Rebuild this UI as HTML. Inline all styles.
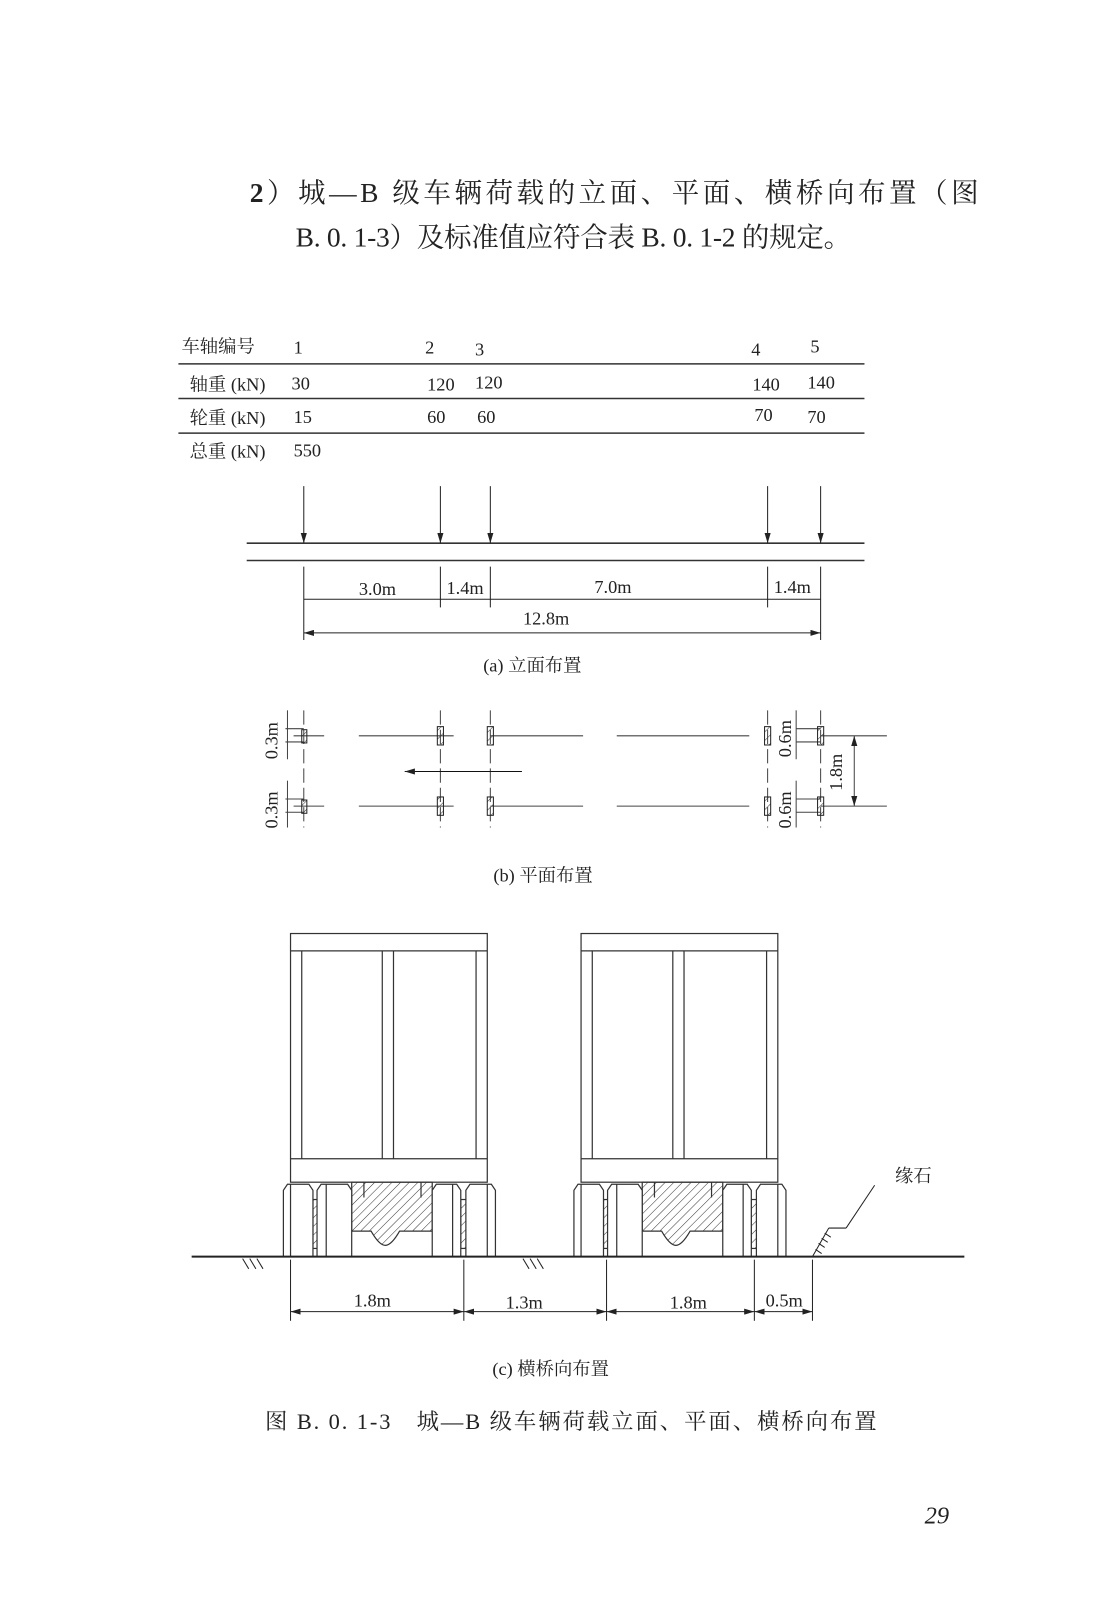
<!DOCTYPE html>
<html><head><meta charset="utf-8"><style>
html,body{margin:0;padding:0;background:#fff}
svg{display:block}
text{font-family:"Liberation Serif","Noto Serif CJK SC",serif;fill:#222}
</style></head><body>
<svg width="1103" height="1598" viewBox="0 0 1082 1568" preserveAspectRatio="none" xmlns="http://www.w3.org/2000/svg">
<defs>
<pattern id="h" width="6" height="6" patternUnits="userSpaceOnUse" patternTransform="rotate(45)">
<line x1="0" y1="0" x2="0" y2="6" stroke="#333" stroke-width="1"/></pattern>
<marker id="a" markerWidth="10" markerHeight="6" refX="10" refY="3" orient="auto" markerUnits="userSpaceOnUse"><path d="M0,0 L10,3 L0,6 Z" fill="#222"/></marker>
<marker id="as" markerWidth="10" markerHeight="6" refX="0" refY="3" orient="auto" markerUnits="userSpaceOnUse"><path d="M10,0 L0,3 L10,6 Z" fill="#222"/></marker>
</defs>
<g font-size="27">
<text x="245" y="198" textLength="715" lengthAdjust="spacing"><tspan font-weight="bold">2</tspan>）城—B 级车辆荷载的立面、平面、横桥向布置（图</text>
<text x="290" y="242" textLength="545" lengthAdjust="spacing">B. 0. 1-3）及标准值应符合表 B. 0. 1-2 的规定。</text>
</g>
<g font-size="18">
<text x="178" y="346">车轴编号</text><text x="288" y="347">1</text><text x="417" y="347">2</text><text x="466" y="349">3</text><text x="737" y="349">4</text><text x="795" y="346">5</text>
<text x="186" y="383">轴重 (kN)</text><text x="286" y="382">30</text><text x="419" y="383">120</text><text x="466" y="381">120</text><text x="738" y="383">140</text><text x="792" y="381">140</text>
<text x="186" y="416">轮重 (kN)</text><text x="288" y="415">15</text><text x="419" y="415">60</text><text x="468" y="415">60</text><text x="740" y="413">70</text><text x="792" y="415">70</text>
<text x="186" y="449">总重 (kN)</text><text x="288" y="448">550</text>
</g>
<g stroke="#333" stroke-width="1.5">
<line x1="175" y1="357" x2="848" y2="357"/><line x1="175" y1="391" x2="848" y2="391"/><line x1="175" y1="425" x2="848" y2="425"/>
<line x1="242" y1="533" x2="848" y2="533"/><line x1="242" y1="550" x2="848" y2="550"/>
</g>
<g stroke="#222" stroke-width="1">
<line x1="298" y1="477" x2="298" y2="533" marker-end="url(#a)"/>
<line x1="432" y1="477" x2="432" y2="533" marker-end="url(#a)"/>
<line x1="481" y1="477" x2="481" y2="533" marker-end="url(#a)"/>
<line x1="753" y1="477" x2="753" y2="533" marker-end="url(#a)"/>
<line x1="805" y1="477" x2="805" y2="533" marker-end="url(#a)"/>
<line x1="298" y1="556" x2="298" y2="628"/><line x1="432" y1="556" x2="432" y2="596"/><line x1="481" y1="556" x2="481" y2="596"/><line x1="753" y1="556" x2="753" y2="596"/><line x1="805" y1="556" x2="805" y2="628"/>
<line x1="298" y1="588" x2="805" y2="588"/>
<line x1="298" y1="621" x2="805" y2="621" marker-start="url(#as)" marker-end="url(#a)"/>
</g>
<g font-size="18">
<text x="352" y="584">3.0m</text><text x="438" y="583">1.4m</text><text x="583" y="582">7.0m</text><text x="759" y="582">1.4m</text><text x="513" y="613">12.8m</text>
<text x="474" y="659">(a) 立面布置</text>
</g>
<g stroke="#444" stroke-width="1">
<g stroke-dasharray="14,5">
<line x1="298" y1="697" x2="298" y2="812"/><line x1="432" y1="697" x2="432" y2="812"/><line x1="481" y1="697" x2="481" y2="812"/><line x1="753" y1="697" x2="753" y2="812"/><line x1="805" y1="697" x2="805" y2="812"/>
</g>
<line x1="288" y1="722" x2="318" y2="722"/><line x1="288" y1="791" x2="318" y2="791"/>
<line x1="352" y1="722" x2="445" y2="722"/><line x1="352" y1="791" x2="445" y2="791"/>
<line x1="481" y1="722" x2="572" y2="722"/><line x1="481" y1="791" x2="572" y2="791"/>
<line x1="605" y1="722" x2="735" y2="722"/><line x1="605" y1="791" x2="735" y2="791"/>
<line x1="805" y1="722" x2="870" y2="722"/><line x1="805" y1="791" x2="870" y2="791"/>
<line x1="512" y1="757" x2="397" y2="757" stroke="#111" marker-end="url(#a)"/>
<line x1="838" y1="722" x2="838" y2="791" marker-start="url(#as)" marker-end="url(#a)"/>
<line x1="280" y1="715" x2="298" y2="715"/><line x1="280" y1="728" x2="298" y2="728"/>
<line x1="280" y1="784" x2="298" y2="784"/><line x1="280" y1="797" x2="298" y2="797"/>
<line x1="282" y1="697" x2="282" y2="745"/><line x1="282" y1="766" x2="282" y2="812"/>
<line x1="781" y1="715" x2="805" y2="715"/><line x1="781" y1="728" x2="805" y2="728"/>
<line x1="781" y1="784" x2="805" y2="784"/><line x1="781" y1="797" x2="805" y2="797"/>
<line x1="781" y1="697" x2="781" y2="745"/><line x1="781" y1="766" x2="781" y2="812"/>
</g>
<g fill="url(#h)" stroke="#222" stroke-width="1">
<rect x="296" y="716" width="5" height="13"/><rect x="296" y="785" width="5" height="13"/>
<rect x="429" y="713" width="6" height="18"/><rect x="429" y="782" width="6" height="18"/>
<rect x="478" y="713" width="6" height="18"/><rect x="478" y="782" width="6" height="18"/>
<rect x="750" y="713" width="6" height="18"/><rect x="750" y="782" width="6" height="18"/>
<rect x="802" y="713" width="6" height="18"/><rect x="802" y="782" width="6" height="18"/>
</g>
<g font-size="18">
<text transform="translate(272,745) rotate(-90)">0.3m</text>
<text transform="translate(272,813) rotate(-90)">0.3m</text>
<text transform="translate(776,743) rotate(-90)">0.6m</text>
<text transform="translate(776,813) rotate(-90)">0.6m</text>
<text transform="translate(826,776) rotate(-90)">1.8m</text>
<text x="484" y="865">(b) 平面布置</text>
</g>
<g id="truck" stroke="#333" stroke-width="1.2" fill="none">
<rect x="285" y="916" width="193" height="244"/>
<line x1="285" y1="933" x2="478" y2="933"/>
<line x1="296" y1="933" x2="296" y2="1137"/><line x1="467" y1="933" x2="467" y2="1137"/>
<line x1="375" y1="933" x2="375" y2="1137"/><line x1="386" y1="933" x2="386" y2="1137"/>
<line x1="285" y1="1137" x2="478" y2="1137"/>
<path d="M345,1160 H424 V1208 H392 Q384,1222 378,1222 Q372,1222 364,1208 H345 Z" fill="url(#h)"/>
<rect x="307" y="1177" width="8" height="48" fill="url(#h)"/><rect x="452" y="1177" width="8" height="48" fill="url(#h)"/>
<path d="M278,1168 L282,1162 H303 L307,1168 V1233 H278 Z" fill="#fff"/><line x1="285" y1="1162" x2="285" y2="1233"/>
<path d="M311,1168 L315,1162 H341 L345,1168 V1233 H311 Z" fill="#fff"/><line x1="320" y1="1162" x2="320" y2="1233"/>
<path d="M424,1168 L428,1162 H448 L452,1168 V1233 H424 Z" fill="#fff"/><line x1="444" y1="1162" x2="444" y2="1233"/>
<path d="M457,1168 L461,1162 H482 L486,1168 V1233 H457 Z" fill="#fff"/><line x1="478" y1="1162" x2="478" y2="1233"/>
<line x1="357" y1="1160" x2="357" y2="1175"/><line x1="413" y1="1160" x2="413" y2="1175"/>
</g>
<use href="#truck" x="285"/>
<g stroke="#222" stroke-width="1">
<line x1="188" y1="1233" x2="946" y2="1233" stroke-width="2"/>
<line x1="797" y1="1233" x2="813" y2="1205"/><line x1="813" y1="1205" x2="830" y2="1205"/><line x1="830" y1="1205" x2="858" y2="1163"/>
<line x1="800" y1="1226" x2="806" y2="1230"/><line x1="803" y1="1220" x2="809" y2="1224"/><line x1="806" y1="1215" x2="812" y2="1219"/><line x1="809" y1="1210" x2="815" y2="1214"/>
<line x1="238" y1="1235" x2="244" y2="1245"/><line x1="245" y1="1235" x2="251" y2="1245"/><line x1="252" y1="1235" x2="258" y2="1245"/>
<line x1="513" y1="1235" x2="519" y2="1245"/><line x1="520" y1="1235" x2="526" y2="1245"/><line x1="527" y1="1235" x2="533" y2="1245"/>
<line x1="285" y1="1236" x2="285" y2="1296"/><line x1="455" y1="1236" x2="455" y2="1296"/><line x1="595" y1="1236" x2="595" y2="1296"/><line x1="740" y1="1236" x2="740" y2="1296"/><line x1="797" y1="1236" x2="797" y2="1296"/>
<line x1="285" y1="1287" x2="455" y2="1287" marker-start="url(#as)" marker-end="url(#a)"/>
<line x1="455" y1="1287" x2="595" y2="1287" marker-start="url(#as)" marker-end="url(#a)"/>
<line x1="595" y1="1287" x2="740" y2="1287" marker-start="url(#as)" marker-end="url(#a)"/>
<line x1="740" y1="1287" x2="797" y2="1287" marker-start="url(#as)" marker-end="url(#a)"/>
</g>
<g font-size="18">
<text x="878" y="1160">缘石</text>
<text x="347" y="1282">1.8m</text><text x="496" y="1284">1.3m</text><text x="657" y="1284">1.8m</text><text x="751" y="1282">0.5m</text>
<text x="483" y="1349">(c) 横桥向布置</text>
</g>
<text x="260" y="1402" font-size="22" textLength="600" lengthAdjust="spacing">图 B. 0. 1-3　城—B 级车辆荷载立面、平面、横桥向布置</text>
<text x="907" y="1495" font-size="24" font-style="italic">29</text>
</svg>
</body></html>
